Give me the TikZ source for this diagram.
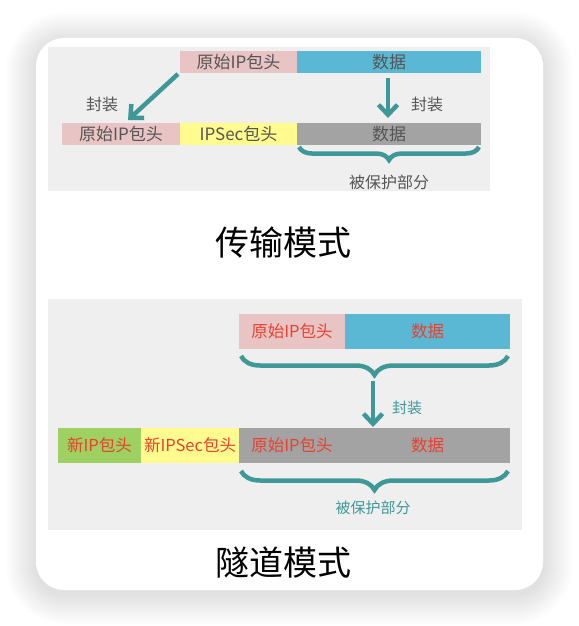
\documentclass[tikz,border=0pt]{standalone}
\usepackage{fontspec}
\setmainfont{Liberation Sans}
\newfontfamily\cjk{Noto Sans CJK SC}
\usetikzlibrary{arrows.meta,decorations.pathreplacing}
\definecolor{pinkc}{HTML}{E8C4C4}
\definecolor{bluec}{HTML}{5BB8D4}
\definecolor{grayc}{HTML}{A3A3A3}
\definecolor{yellowc}{HTML}{FFFB8E}
\definecolor{greenc}{HTML}{9ED062}
\definecolor{tealc}{HTML}{3F9898}
\definecolor{panelc}{HTML}{EFEFEF}
\definecolor{darktxt}{HTML}{555555}
\definecolor{redtxt}{HTML}{E8412F}
\tikzset{
  x=1pt,y=-1pt,
  fld/.style={inner sep=0pt,outer sep=0pt,font=\cjk\fontsize{17}{17}\selectfont,text=darktxt},
  fldr/.style={inner sep=0pt,outer sep=0pt,font=\cjk\fontsize{16.5}{16.5}\selectfont,text=redtxt},
  lbl/.style={inner sep=0pt,font=\cjk\fontsize{16}{16}\selectfont,text=darktxt},
  lblt/.style={inner sep=0pt,font=\cjk\fontsize{15}{15}\selectfont,text=tealc},
  ttl/.style={inner sep=0pt,font=\cjk\fontsize{34}{34}\selectfont,text=black},
  arr/.style={draw=tealc,line width=4.5pt,-{Straight Barb[length=10pt,width=19pt,line width=4.5pt]}},
  brc/.style={draw=tealc,line width=4.5pt,decorate,decoration={brace,mirror,amplitude=#1}},
}
\begin{document}
\begin{tikzpicture}
\useasboundingbox (0,0) rectangle (578,626);
% shadow
\foreach \d in {30,28,...,2}{
  \fill[black,opacity=0.008,rounded corners=28+\d] (36-\d,38-\d+4) rectangle (543+\d,590+\d+4);
}
\fill[white,rounded corners=28] (36,38) rectangle (543,590);
% ---------- transport mode
\fill[panelc] (48,47) rectangle (490,191);
\fill[pinkc] (180,51) rectangle (297,73);
\fill[bluec] (297,51) rectangle (481,73);
\node[fld] (oh1) at (238.5,62) {原始IP包头};
\node[fld] (d1) at (389,62) {数据};
\fill[pinkc] (62,123) rectangle (180,145);
\fill[yellowc] (180,123) rectangle (297,145);
\fill[grayc] (297,123) rectangle (481,145);
\node[fld] (oh2) at (121,134) {原始IP包头};
\node[fld] (ips) at (238.5,134) {IPSec包头};
\node[fld] (d2) at (389,134) {数据};
\coordinate (a1s) at (178,74);
\coordinate (a1e) at (128,120);
\draw[arr] (a1s) -- (a1e);
\node[lbl] (f1) at (102,104) {封装};
\coordinate (a2s) at (388,78);
\coordinate (a2e) at (388,118);
\draw[arr] (a2s) -- (a2e);
\node[lbl] (f2) at (427,104) {封装};
\coordinate (b1l) at (299,147);
\coordinate (b1r) at (479,147);
\draw[brc=13] (b1l) -- (b1r);
\node[lbl] (p1) at (389,182) {被保护部分};
\node[ttl] (t1) at (283,243) {传输模式};
% ---------- tunnel mode
\fill[panelc] (48,299) rectangle (522,530);
\fill[pinkc] (239,314) rectangle (345,349);
\fill[bluec] (345,314) rectangle (510,349);
\node[fldr] (oh3) at (292,331.5) {原始IP包头};
\node[fldr] (d3) at (427.5,331.5) {数据};
\coordinate (b2l) at (241,356);
\coordinate (b2r) at (508,356);
\draw[brc=19] (b2l) -- (b2r);
\coordinate (a3s) at (373,381);
\coordinate (a3e) at (373,427);
\draw[arr] (a3s) -- (a3e);
\node[lblt] (f3) at (407,408) {封装};
\fill[greenc] (58,428) rectangle (141,463);
\fill[yellowc] (141,428) rectangle (239,463);
\fill[grayc] (239,428) rectangle (510,463);
\node[fldr] (nh) at (99.5,445.5) {新IP包头};
\node[fldr] (nips) at (190,445.5) {新IPSec包头};
\node[fldr] (oh4) at (292,445.5) {原始IP包头};
\node[fldr] (d4) at (427.5,445.5) {数据};
\coordinate (b3l) at (241,471);
\coordinate (b3r) at (508,471);
\draw[brc=19] (b3l) -- (b3r);
\node[lblt] (p2) at (373,508) {被保护部分};
\node[ttl] (t2) at (283,563) {隧道模式};
\end{tikzpicture}
\end{document}
